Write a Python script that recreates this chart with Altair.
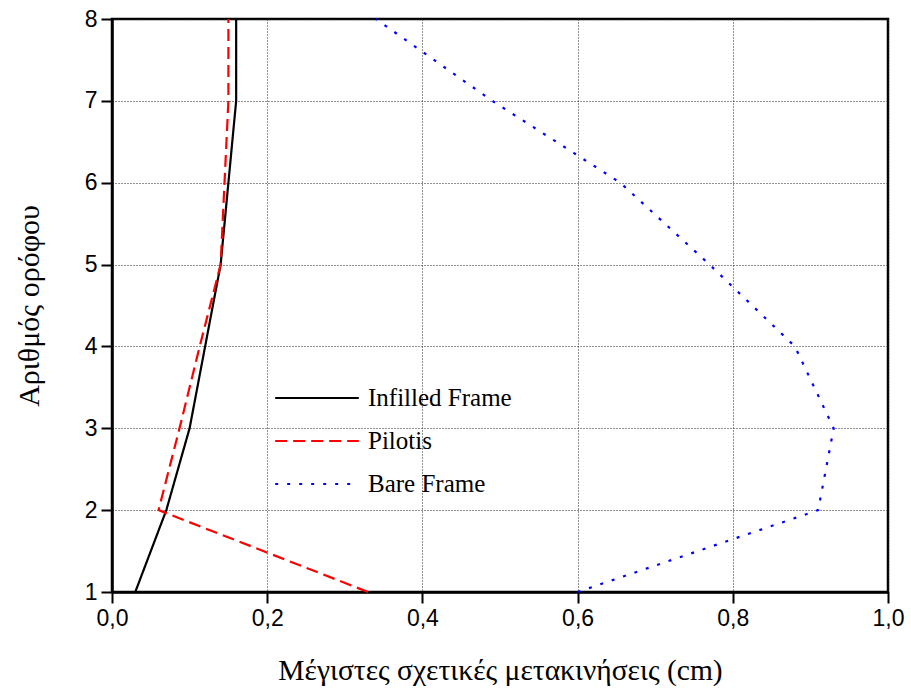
import altair as alt
import pandas as pd

floors = [1, 2, 3, 4, 5, 6, 7, 8]
infilled = [0.03, 0.07, 0.10, 0.12, 0.14, 0.15, 0.16, 0.16]
pilotis = [0.33, 0.06, 0.087, 0.113, 0.14, 0.145, 0.15, 0.15]
bare = [0.60, 0.91, 0.93, 0.88, 0.77, 0.655, 0.49, 0.34]
series_names = ["Infilled Frame", "Pilotis", "Bare Frame"]
x_ticks = [0.0, 0.2, 0.4, 0.6, 0.8, 1.0]
y_ticks = [1, 2, 3, 4, 5, 6, 7, 8]

rows = []
for name, vals in zip(series_names, [infilled, pilotis, bare]):
    for f, v in zip(floors, vals):
        rows.append({"series": name, "x": v, "floor": f})
df = pd.DataFrame(rows)

SERIF = "Liberation Serif"
SANS = "Liberation Sans"

chart = alt.Chart(df).mark_line(strokeWidth=2.2).encode(
    x=alt.X("x:Q",
            scale=alt.Scale(domain=[0, 1], nice=False, zero=False),
            axis=alt.Axis(values=x_ticks, labelFlush=False,
                          labelExpr="replace(format(datum.value, '.1f'), '.', ',')",
                          title="Μέγιστες σχετικές μετακινήσεις (cm)",
                          titleFontSize=29.5, titlePadding=26)),
    y=alt.Y("floor:Q",
            scale=alt.Scale(domain=[1, 8], nice=False, zero=False),
            axis=alt.Axis(values=y_ticks, format="d", labelFlush=False,
                          title="Αριθμός ορόφου", titleFontSize=30, titlePadding=40)),
    color=alt.Color("series:N",
                    scale=alt.Scale(domain=series_names, range=["black", "red", "blue"]),
                    legend=alt.Legend(title=None, orient="none", legendX=162, legendY=367,
                                      symbolType="stroke", symbolSize=7000,
                                      symbolStrokeWidth=2.2, labelFont=SERIF,
                                      labelFontSize=25, labelLimit=400,
                                      clipHeight=24, rowPadding=18, labelOffset=8)),
    strokeDash=alt.StrokeDash("series:N",
                              scale=alt.Scale(domain=series_names,
                                              range=[[1, 0], [12, 6], [3, 9]]),
                              legend=None),
    order=alt.Order("floor:Q"),
).properties(
    width=776, height=573,
    autosize=alt.AutoSizeParams(type="none"),
    padding={"left": 112, "top": 19, "right": 23, "bottom": 103},
).configure_view(
    stroke="black", strokeWidth=2.5
).configure_axis(
    grid=True, gridColor="#222222", gridDash=[1, 2], gridWidth=1,
    domainColor="black", domainWidth=2.5,
    tickColor="black", tickWidth=2, tickSize=11,
    labelFont=SANS, labelFontSize=23, labelColor="black", labelPadding=4,
    titleFont=SERIF, titleFontWeight="normal", titleColor="black",
)

chart.save("out.html", embed_options={"renderer": "svg", "actions": False})
